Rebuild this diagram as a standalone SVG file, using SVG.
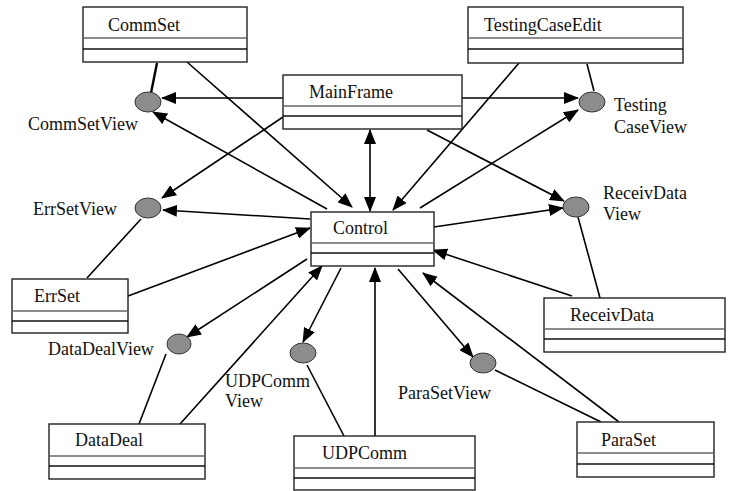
<svg xmlns="http://www.w3.org/2000/svg" width="731" height="491" viewBox="0 0 731 491">
  <style>
    .box { fill: #fff; stroke: #222; stroke-width: 1.4; }
    .div1 { stroke: #666; stroke-width: 1.3; }
    .div2 { stroke: #111; stroke-width: 1.3; }
    .name { font-family: "Liberation Serif", "Times New Roman", serif; font-size: 18px; fill: #111; }
    .lbl { font-family: "Liberation Serif", "Times New Roman", serif; font-size: 18px; fill: #111; }
    .view { fill: #8c8c8c; stroke: #333; stroke-width: 1; }
    .link { stroke: #000; stroke-width: 1.6; fill: none; }
    .arr { marker-end: url(#head); }
    .both { marker-start: url(#head); marker-end: url(#head); }
  </style>
  <defs>
    <marker id="head" markerUnits="userSpaceOnUse" markerWidth="15" markerHeight="12" viewBox="0 0 15 12" refX="14" refY="6" orient="auto-start-reverse">
      <path d="M0,0 L15,6 L0,12 z" fill="#000"/>
    </marker>
  </defs>
  <rect width="731" height="491" fill="#fff"/>

  <!-- connectors -->
  <g id="connectors">
    <line class="link" x1="157" y1="63" x2="151" y2="93" style="stroke-width:2.4"/>
    <line class="link arr" x1="187" y1="62" x2="352" y2="207"/>
    <line class="link arr" x1="283" y1="98" x2="162" y2="98"/>
    <line class="link arr" x1="327" y1="209" x2="153" y2="112"/>
    <line class="link arr" x1="283" y1="117" x2="162" y2="198"/>
    <line class="link arr" x1="310" y1="219" x2="163" y2="210"/>
    <line class="link" x1="141" y1="219" x2="87" y2="278"/>
    <line class="link arr" x1="128" y1="296" x2="310" y2="228"/>
    <line class="link both" x1="370" y1="130" x2="370" y2="211"/>
    <line class="link arr" x1="519" y1="63" x2="393" y2="210"/>
    <line class="link" x1="587" y1="64" x2="594" y2="91"/>
    <line class="link arr" x1="461" y1="98" x2="578" y2="98"/>
    <line class="link arr" x1="420" y1="208" x2="578" y2="110"/>
    <line class="link arr" x1="427" y1="130" x2="564" y2="201"/>
    <line class="link arr" x1="434" y1="227" x2="563" y2="208"/>
    <line class="link" x1="578" y1="217" x2="600" y2="298"/>
    <line class="link arr" x1="572" y1="296" x2="433" y2="250"/>
    <line class="link arr" x1="619" y1="422" x2="423" y2="273"/>
    <line class="link" x1="495" y1="370" x2="601" y2="422"/>
    <line class="link arr" x1="398" y1="269" x2="473" y2="357"/>
    <line class="link arr" x1="375" y1="436" x2="375" y2="268"/>
    <line class="link arr" x1="341" y1="268" x2="303" y2="342"/>
    <line class="link" x1="307" y1="365" x2="344" y2="436"/>
    <line class="link arr" x1="180" y1="424" x2="322" y2="266"/>
    <line class="link arr" x1="307" y1="259" x2="187" y2="337"/>
    <line class="link" x1="166" y1="354" x2="139" y2="424"/>
  </g>

  <!-- class boxes -->
  <g id="CommSet">
    <rect class="box" x="83" y="7" width="164" height="55"/>
    <line class="div1" x1="83" y1="38" x2="247" y2="38"/>
    <line class="div2" x1="83" y1="49" x2="247" y2="49"/>
    <text class="name" x="108" y="31">CommSet</text>
  </g>
  <g id="TestingCaseEdit">
    <rect class="box" x="468" y="7" width="215" height="56"/>
    <line class="div1" x1="468" y1="38" x2="683" y2="38"/>
    <line class="div2" x1="468" y1="49" x2="683" y2="49"/>
    <text class="name" x="484" y="31">TestingCaseEdit</text>
  </g>
  <g id="MainFrame">
    <rect class="box" x="283" y="75" width="179" height="54"/>
    <line class="div1" x1="283" y1="106" x2="462" y2="106"/>
    <line class="div2" x1="283" y1="116" x2="462" y2="116"/>
    <text class="name" x="309" y="98">MainFrame</text>
  </g>
  <g id="Control">
    <rect class="box" x="311" y="212" width="123" height="54"/>
    <line class="div1" x1="311" y1="243" x2="434" y2="243"/>
    <line class="div2" x1="311" y1="253" x2="434" y2="253"/>
    <text class="name" x="333" y="234">Control</text>
  </g>
  <g id="ErrSet">
    <rect class="box" x="12" y="279" width="116" height="54"/>
    <line class="div1" x1="12" y1="311" x2="128" y2="311"/>
    <line class="div2" x1="12" y1="321" x2="128" y2="321"/>
    <text class="name" x="34" y="302">ErrSet</text>
  </g>
  <g id="ReceivData">
    <rect class="box" x="544" y="298" width="181" height="54"/>
    <line class="div1" x1="544" y1="329" x2="725" y2="329"/>
    <line class="div2" x1="544" y1="339" x2="725" y2="339"/>
    <text class="name" x="570" y="321">ReceivData</text>
  </g>
  <g id="DataDeal">
    <rect class="box" x="49" y="424" width="156" height="55"/>
    <line class="div1" x1="49" y1="456" x2="205" y2="456"/>
    <line class="div2" x1="49" y1="466" x2="205" y2="466"/>
    <text class="name" x="75" y="446">DataDeal</text>
  </g>
  <g id="UDPComm">
    <rect class="box" x="294" y="436" width="181" height="54"/>
    <line class="div1" x1="294" y1="468" x2="475" y2="468"/>
    <line class="div2" x1="294" y1="478" x2="475" y2="478"/>
    <text class="name" x="322" y="459">UDPComm</text>
  </g>
  <g id="ParaSet">
    <rect class="box" x="577" y="422" width="137" height="55"/>
    <line class="div1" x1="577" y1="453" x2="714" y2="453"/>
    <line class="div2" x1="577" y1="464" x2="714" y2="464"/>
    <text class="name" x="601" y="446">ParaSet</text>
  </g>

  <!-- view interfaces -->
  <g id="CommSetView">
    <ellipse class="view" cx="148" cy="102" rx="13" ry="10"/>
    <text class="lbl" x="28" y="130">CommSetView</text>
  </g>
  <g id="ErrSetView">
    <ellipse class="view" cx="148" cy="208" rx="13" ry="10"/>
    <text class="lbl" x="33" y="215">ErrSetView</text>
  </g>
  <g id="TestingCaseView">
    <ellipse class="view" cx="592" cy="102" rx="13" ry="10"/>
    <text class="lbl" x="614" y="111">Testing</text>
    <text class="lbl" x="614" y="133">CaseView</text>
  </g>
  <g id="ReceivDataView">
    <ellipse class="view" cx="576" cy="207" rx="13" ry="10"/>
    <text class="lbl" x="603" y="199">ReceivData</text>
    <text class="lbl" x="603" y="220">View</text>
  </g>
  <g id="DataDealView">
    <ellipse class="view" cx="179" cy="344" rx="12" ry="10"/>
    <text class="lbl" x="48" y="355">DataDealView</text>
  </g>
  <g id="UDPCommView">
    <ellipse class="view" cx="303" cy="353" rx="13" ry="10"/>
    <text class="lbl" x="225" y="387">UDPComm</text>
    <text class="lbl" x="225" y="407">View</text>
  </g>
  <g id="ParaSetView">
    <ellipse class="view" cx="483" cy="363" rx="13" ry="10"/>
    <text class="lbl" x="398" y="399">ParaSetView</text>
  </g>
</svg>
